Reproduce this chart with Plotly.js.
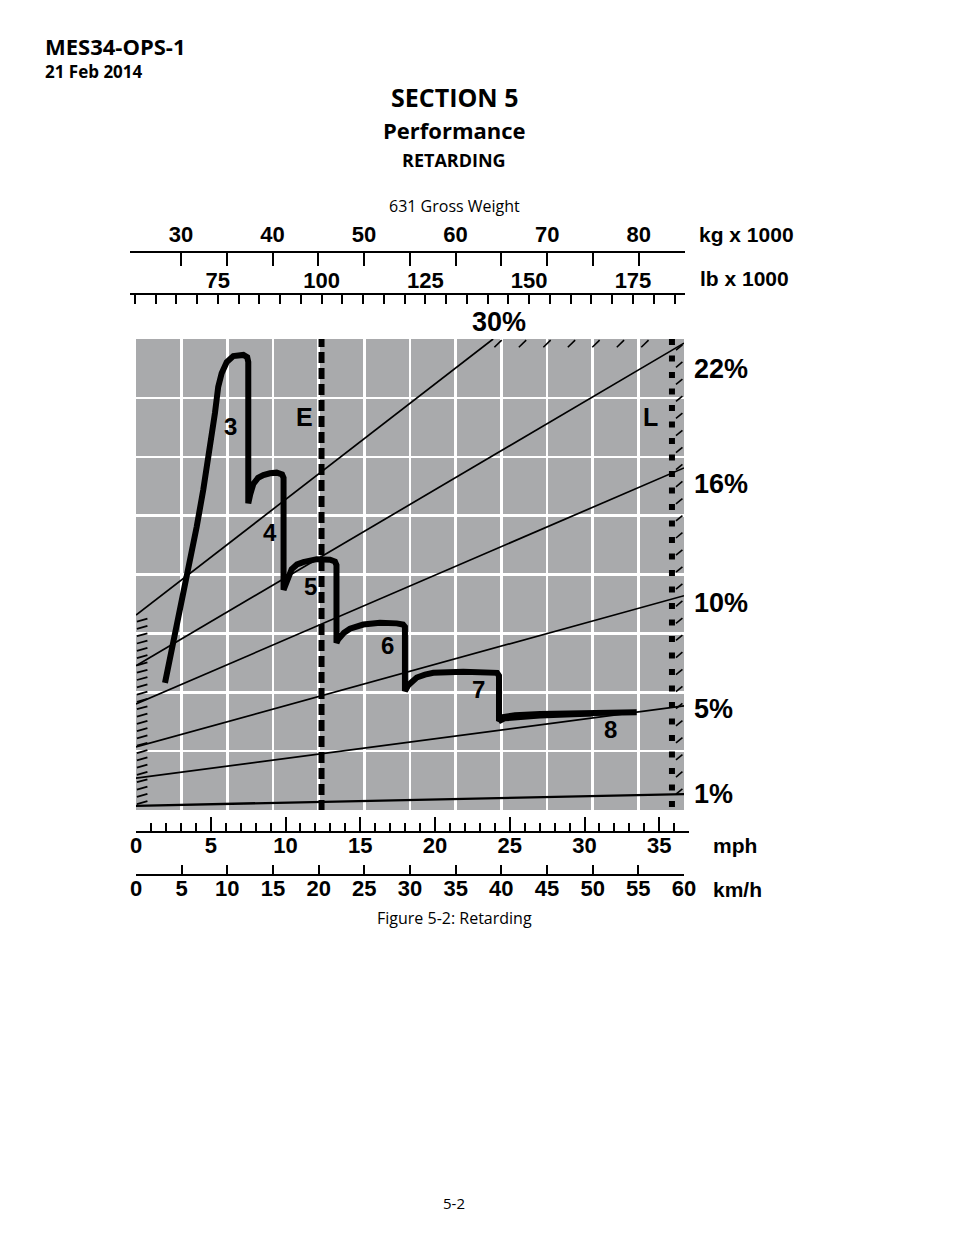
<!DOCTYPE html>
<html><head><meta charset="utf-8">
<script src="https://cdn.plot.ly/plotly-3.0.1.min.js"></script>
<style>html,body{margin:0;padding:0;background:#fff}#chart{width:954px;height:1235px}</style>
</head><body><div id="chart"></div>
<script>
// ---------------- data ----------------
// top scales
const kgTickVals = [30,35,40,45,50,55,60,65,70,75,80,85];
const kgTickText = ['30','','40','','50','','60','','70','','80',''];
const lbTickVals = [55,60,65,70,75,80,85,90,95,100,105,110,115,120,125,130,135,140,145,150,155,160,165,170,175,180,185];
const lbTickText = ['','','','','75','','','','','100','','','','','125','','','','','150','','','','','175','',''];
// bottom scales
const mphRange = [0,37];
const kmhRange = [0,60];
// grade lines (x in kg x 1000 on the weight grid, y in grid units 0..8)
const gradeNames   = ['1%','5%','10%','16%','22%','30%'];
const gradeKgStart = [25,25,25,25,25,25];
const gradeYStart  = [0.07,0.54,1.07,1.80,2.45,3.31];
const gradeKgEnd   = [85,85,85,85,85,64.1];
const gradeYEnd    = [0.27,1.77,3.64,5.81,7.93,8.0];
// retarding performance curve, gears 3..8 (x mph, y grid units)
const retarderMph = [1.94,3.16,4.06,4.50,4.95,5.28,5.50,5.73,6.07,6.51,7.18,7.44,7.51,7.51,
  7.63,7.85,8.16,8.52,8.96,9.41,9.77,9.87,9.87,
  9.97,10.41,10.77,11.19,12.09,12.98,13.31,13.41,13.41,
  13.53,13.91,14.31,15.20,16.32,17.44,17.86,17.99,17.99,
  18.21,18.78,19.33,19.89,21.89,23.68,24.15,24.28,24.28,
  24.57,25.35,27.02,30.57,33.49];
const retarderForce = [2.16,3.62,4.81,5.44,6.12,6.74,7.19,7.42,7.61,7.71,7.73,7.69,7.61,5.21,
  5.35,5.54,5.64,5.69,5.72,5.73,5.70,5.64,3.74,
  3.82,4.09,4.17,4.21,4.26,4.25,4.22,4.16,2.84,
  2.90,3.01,3.08,3.15,3.18,3.17,3.15,3.11,2.02,
  2.12,2.25,2.30,2.33,2.35,2.35,2.33,2.28,1.51,
  1.58,1.61,1.63,1.65,1.66];
const gear8LowMph   = [24.28,24.68,27.02,30.57];
const gear8LowForce = [1.49,1.54,1.59,1.62];
const gearNames = ['3','4','5','6','7','8'];
const gearLabelMph   = [6.35,8.96,11.64,16.79,22.88,31.77];
const gearLabelForce = [6.52,4.71,3.80,2.80,2.04,1.36];
const speedLimitNames = ['E','L'];
const speedLimitMph = [12.41,35.85];

// ---------------- layout helpers ----------------
const W = 954, H = 1235;
const px = v => v / W, py = v => 1 - v / H;
const FN = "'Liberation Sans', Arial, sans-serif";
const HF = "'Open Sans', 'Noto Sans', sans-serif";
const LB = 2.20462;
const yDom = [py(810), py(339)];

const traces = [];
// grade lines
gradeNames.forEach((n, i) => {
  traces.push({x:[gradeKgStart[i], gradeKgEnd[i]], y:[gradeYStart[i], gradeYEnd[i]], xaxis:'x', yaxis:'y',
    mode:'lines', line:{color:'#000', width: i === 0 ? 2.4 : 1.7}, hoverinfo:'skip', name:n});
});
// left edge hatch
(function(){
  const hx = [], hy = [];
  for (let v = 0.10; v <= 3.25; v += 0.124) { hx.push(25.1, 26.25, null); hy.push(v, v + 0.05, null); }
  traces.push({x:hx, y:hy, xaxis:'x', yaxis:'y', mode:'lines', line:{color:'#000', width:1.8}, hoverinfo:'skip'});
})();
// top hatch (beyond 30%)
(function(){
  const hx = [], hy = [];
  for (let k = 0; k < 7; k++) { const c = 64.64 + k * 2.68; hx.push(c - 0.4, c + 0.4, null); hy.push(7.86, 7.98, null); }
  traces.push({x:hx, y:hy, xaxis:'x', yaxis:'y', mode:'lines', line:{color:'#000', width:1.6}, hoverinfo:'skip'});
})();
// dummy traces to attach scale axes
traces.push({x:kgTickVals, y:kgTickVals.map(()=>-5), xaxis:'x2', yaxis:'y2', mode:'markers', marker:{opacity:0}, hoverinfo:'skip'});
traces.push({x:lbTickVals, y:lbTickVals.map(()=>-5), xaxis:'x3', yaxis:'y2', mode:'markers', marker:{opacity:0}, hoverinfo:'skip'});
traces.push({x:kmhRange, y:[-5,-5], xaxis:'x5', yaxis:'y2', mode:'markers', marker:{opacity:0}, hoverinfo:'skip'});
// E line (dashed) and L line (dotted squares)
traces.push({x:[speedLimitMph[0], speedLimitMph[0]], y:[8.05,-0.05], xaxis:'x4', yaxis:'y2', mode:'lines',
  line:{color:'#000', width:6, dash:'11px,5px'}, hoverinfo:'skip'});
traces.push({x:[speedLimitMph[1], speedLimitMph[1]], y:[8,0], xaxis:'x4', yaxis:'y2', mode:'lines',
  line:{color:'#000', width:6, dash:'6px,10.5px'}, hoverinfo:'skip'});
// small slanted ticks right of L line
(function(){
  const hx = [], hy = [];
  for (let v = 7.85; v > 0.1; v -= 0.29) { hx.push(36.12, 36.55, null); hy.push(v - 0.04, v + 0.05, null); }
  traces.push({x:hx, y:hy, xaxis:'x4', yaxis:'y2', mode:'lines', line:{color:'#000', width:1.6}, hoverinfo:'skip'});
})();
// retarding curve
traces.push({x:gear8LowMph, y:gear8LowForce, xaxis:'x4', yaxis:'y2', mode:'lines', line:{color:'#000', width:4}, hoverinfo:'skip'});
traces.push({x:retarderMph, y:retarderForce, xaxis:'x4', yaxis:'y2', mode:'lines', line:{color:'#000', width:6}, hoverinfo:'skip'});

const scaleAxis = o => Object.assign({
  anchor:'free', showline:true, linecolor:'#000', linewidth:2, ticks:'inside', tickcolor:'#000', tickwidth:2,
  showgrid:false, zeroline:false, fixedrange:true,
  tickfont:{family:FN, size:22, color:'#000', weight:'bold'}
}, o);

const annotations = [];
const A = (text, x, y, size, o) => annotations.push(Object.assign({
  text, x:px(x), y:py(y), xref:'paper', yref:'paper', showarrow:false, xanchor:'center', yanchor:'middle',
  font:{family:FN, size, color:'#000', weight:'bold'}
}, o || {}));
// page header/footer
A('MES34-OPS-1', 43, 46, 22, {xanchor:'left', font:{family:HF, size:22, weight:'bold', color:'#000'}});
A('21 Feb 2014', 43, 72, 17, {xanchor:'left', font:{family:HF, size:17, weight:'bold', color:'#000'}});
A('SECTION 5', 454, 97, 25, {font:{family:HF, size:25, weight:'bold', color:'#000'}});
A('Performance', 454, 130, 22, {font:{family:HF, size:22, weight:'bold', color:'#000'}});
A('RETARDING', 454, 160, 18, {font:{family:HF, size:18, weight:'bold', color:'#000'}});
A('631 Gross Weight', 454, 206, 16, {font:{family:HF, size:16, color:'#000'}});
A('Figure 5-2: Retarding', 454, 918, 16, {font:{family:HF, size:16, color:'#000'}});
A('5-2', 454, 1203, 15, {font:{family:HF, size:15, color:'#000'}});
// unit labels
A('kg x 1000', 697, 234, 21, {xanchor:'left'});
A('lb x 1000', 698, 279, 21, {xanchor:'left'});
A('mph', 711, 845, 21, {xanchor:'left'});
A('km/h', 711, 889, 21, {xanchor:'left'});
// grade labels
A('30%', 499, 322, 27);
const gradeLabelY = [794, 709, 603, 484, 369];
['1%','5%','10%','16%','22%'].forEach((t, i) => A(t, 692, gradeLabelY[i], 27, {xanchor:'left'}));
// gear & limit labels in data coordinates
gearNames.forEach((g, i) => annotations.push({text:g, x:gearLabelMph[i], y:gearLabelForce[i], xref:'x4', yref:'y2',
  showarrow:false, font:{family:FN, size:24, color:'#000', weight:'bold'}}));
speedLimitNames.forEach((t, i) => annotations.push({text:t, x:speedLimitMph[i] + (i === 0 ? -1.17 : -1.41), y:6.68, xref:'x4', yref:'y2',
  showarrow:false, font:{family:FN, size:25, color:'#000', weight:'bold'}}));

const layout = {
  width:W, height:H, margin:{l:0, r:0, t:0, b:0, pad:0},
  paper_bgcolor:'#fff', plot_bgcolor:'rgba(0,0,0,0)', showlegend:false, hovermode:false,
  shapes:[{type:'rect', xref:'x', yref:'y', x0:25, x1:85, y0:0, y1:8, layer:'below', line:{width:0}, fillcolor:'#a9aaac'}],
  xaxis:{domain:[px(136), px(684)], range:[25,85], tickmode:'array', tickvals:[30,35,40,45,50,55,60,65,70,75,80],
    showticklabels:false, ticks:'', showgrid:true, gridcolor:'#fff', gridwidth:2.5, zeroline:false, showline:false, fixedrange:true},
  yaxis:{domain:yDom, range:[0,8], tickmode:'array', tickvals:[1,2,3,4,5,6,7], showticklabels:false, ticks:'',
    showgrid:true, gridcolor:'#fff', gridwidth:2.5, zeroline:false, showline:false, fixedrange:true},
  yaxis2:{domain:yDom, range:[0,8], visible:false, fixedrange:true},
  xaxis2: scaleAxis({domain:[px(130), px(685)], range:[24.43, 85.06], side:'top', position:py(251.5),
    tickmode:'array', tickvals:kgTickVals, ticktext:kgTickText, ticklen:13}),
  xaxis3: scaleAxis({domain:[px(130), px(685)], range:[24.43 * LB, 85.06 * LB], side:'top', position:py(294),
    tickmode:'array', tickvals:lbTickVals, ticktext:lbTickText, ticklen:9, ticklabelstandoff:-4}),
  xaxis4: scaleAxis({domain:[px(136), px(689.15)], range:mphRange, side:'bottom', position:py(832),
    tickmode:'linear', tick0:0, dtick:5, ticklen:14, ticklabelstandoff:-6,
    minor:{ticks:'inside', ticklen:8, tickwidth:2, tickcolor:'#000', dtick:1, tick0:0, showgrid:false}}),
  xaxis5: scaleAxis({domain:[px(136), px(684)], range:kmhRange, side:'bottom', position:py(874.5),
    tickmode:'linear', tick0:0, dtick:5, ticklen:9, ticklabelstandoff:-6}),
  annotations
};
Plotly.newPlot('chart', traces, layout, {staticPlot:true, displayModeBar:false});
</script></body></html>
